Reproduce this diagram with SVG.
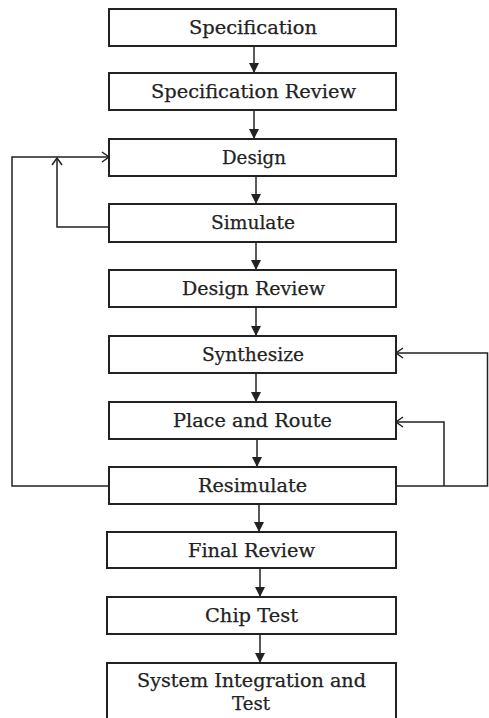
<svg xmlns="http://www.w3.org/2000/svg" width="489" height="718" viewBox="0 0 489 718">
<style>
.box{fill:#fff;stroke:#222;stroke-width:2}
.lbl{font-family:"DejaVu Serif","Liberation Serif",serif;font-size:18px;fill:#222;stroke:#222;stroke-width:0.25;text-anchor:middle}
.con{fill:none;stroke:#222;stroke-width:1.5}
</style>
<defs>
<marker id="ah" markerWidth="11" markerHeight="10" refX="10" refY="5" orient="auto" markerUnits="userSpaceOnUse">
<path d="M0,0 L10,5 L0,10 Z" fill="#222"/>
</marker>
<marker id="oh" markerWidth="10" markerHeight="12" refX="8" refY="6" orient="auto" markerUnits="userSpaceOnUse">
<path d="M1,1 L8,6 L1,11" fill="none" stroke="#222" stroke-width="1.5"/>
</marker>
</defs>
<rect width="489" height="718" fill="#fff"/>
<g id="connectors">
<line class="con" x1="254" y1="46" x2="254" y2="73" marker-end="url(#ah)"/>
<line class="con" x1="254" y1="110" x2="254" y2="139" marker-end="url(#ah)"/>
<line class="con" x1="256" y1="176" x2="256" y2="204" marker-end="url(#ah)"/>
<line class="con" x1="256" y1="242" x2="256" y2="270" marker-end="url(#ah)"/>
<line class="con" x1="256" y1="307" x2="256" y2="336" marker-end="url(#ah)"/>
<line class="con" x1="256" y1="373" x2="256" y2="402" marker-end="url(#ah)"/>
<line class="con" x1="257" y1="439" x2="257" y2="467" marker-end="url(#ah)"/>
<line class="con" x1="259" y1="504" x2="259" y2="532" marker-end="url(#ah)"/>
<line class="con" x1="260" y1="568" x2="260" y2="597" marker-end="url(#ah)"/>
<line class="con" x1="260" y1="634" x2="260" y2="663" marker-end="url(#ah)"/>
<polyline class="con" points="109,227 57,227 57,158" marker-end="url(#oh)"/>
<polyline class="con" points="109,486 12,486 12,157 109,157" marker-end="url(#oh)"/>
<polyline class="con" points="396,486 487.5,486 487.5,353 396,353" marker-end="url(#oh)"/>
<polyline class="con" points="444,486 444,422 396,422" marker-end="url(#oh)"/>
</g>
<g id="specification"><rect class="box" x="109" y="9" width="287" height="37"/><text class="lbl" x="253" y="33.5" textLength="128" lengthAdjust="spacingAndGlyphs">Specification</text></g>
<g id="specification-review"><rect class="box" x="109" y="73" width="287" height="37"/><text class="lbl" x="253.5" y="97.5" textLength="205" lengthAdjust="spacingAndGlyphs">Specification Review</text></g>
<g id="design"><rect class="box" x="109" y="139" width="287" height="37"/><text class="lbl" x="254" y="163.5" textLength="64" lengthAdjust="spacingAndGlyphs">Design</text></g>
<g id="simulate"><rect class="box" x="109" y="204" width="287" height="38"/><text class="lbl" x="253" y="229" textLength="84" lengthAdjust="spacingAndGlyphs">Simulate</text></g>
<g id="design-review"><rect class="box" x="109" y="270" width="287" height="37"/><text class="lbl" x="253.5" y="294.5" textLength="143" lengthAdjust="spacingAndGlyphs">Design Review</text></g>
<g id="synthesize"><rect class="box" x="109" y="336" width="287" height="37"/><text class="lbl" x="253" y="360.5" textLength="102" lengthAdjust="spacingAndGlyphs">Synthesize</text></g>
<g id="place-and-route"><rect class="box" x="109" y="402" width="287" height="37"/><text class="lbl" x="252.5" y="426.5" textLength="159" lengthAdjust="spacingAndGlyphs">Place and Route</text></g>
<g id="resimulate"><rect class="box" x="109" y="467" width="287" height="37"/><text class="lbl" x="252.5" y="491.5" textLength="109" lengthAdjust="spacingAndGlyphs">Resimulate</text></g>
<g id="final-review"><rect class="box" x="107" y="532" width="289" height="36"/><text class="lbl" x="251.5" y="556.5" textLength="127" lengthAdjust="spacingAndGlyphs">Final Review</text></g>
<g id="chip-test"><rect class="box" x="107" y="597" width="289" height="37"/><text class="lbl" x="251.5" y="621.5" textLength="93" lengthAdjust="spacingAndGlyphs">Chip Test</text></g>
<g id="system-integration"><rect class="box" x="107" y="663" width="289" height="60"/><text class="lbl" x="251.5" y="687" textLength="229" lengthAdjust="spacingAndGlyphs">System Integration and</text><text class="lbl" x="251" y="710" textLength="38" lengthAdjust="spacingAndGlyphs">Test</text></g>
</svg>
